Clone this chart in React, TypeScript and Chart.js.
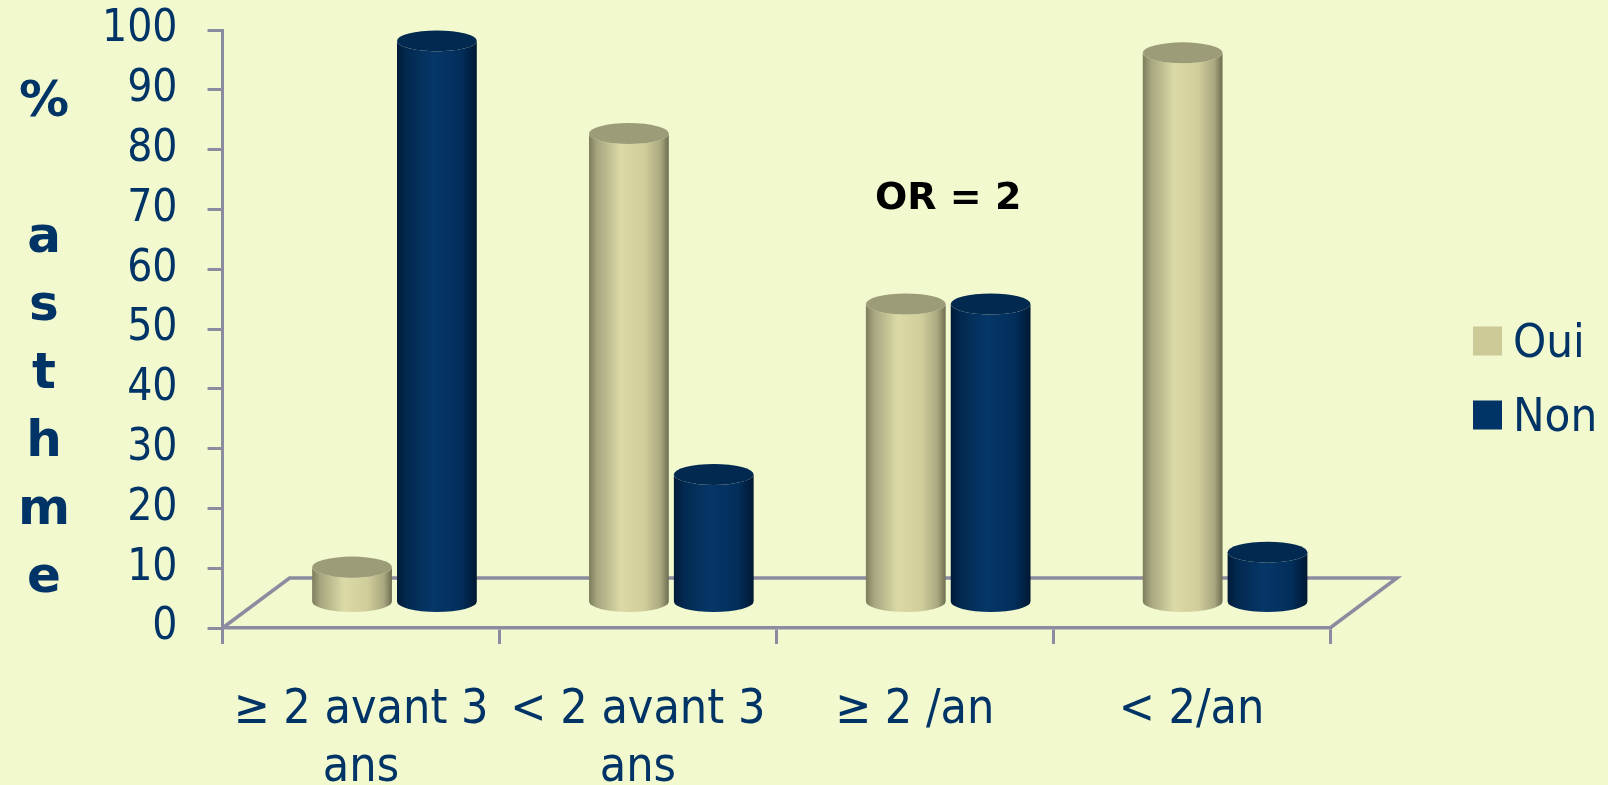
import React, { useEffect, useRef } from "react";
import { Chart, registerables } from "chart.js";

Chart.register(...registerables);

// ---------- data ----------
const categories: (string | string[])[] = [
  ["≥ 2 avant 3", "ans"],
  ["< 2 avant 3", "ans"],
  "≥ 2 /an",
  "< 2/an",
];
const seriesLabels = ["Oui", "Non"];
const ouiValues = [6, 78.5, 50, 92];
const nonValues = [94, 21.5, 50, 8.5];
const yTitleLetters = ["%", "", "a", "s", "t", "h", "m", "e"];
const annotationText = "OR = 2";
const annotationCategoryIndex = 2;
const annotationValue = 70;

// ---------- styling ----------
const BG = "#F2F9CE";
const NAVY = "#003366";
const AXIS_COLOR = "#8C8CA0";
const DEPTH_X = 67;
const DEPTH_Y = 50;
const CAP_RY = 10.5;
const X_AXIS_HEIGHT = 157;
const COND = "'DejaVu Sans Condensed', 'DejaVu Sans', sans-serif";
const BOLD = "'DejaVu Sans', Verdana, sans-serif";

const legendColors = ["#CCCA96", NAVY];
const shades = [
  {
    stops: [
      [0, "#7d7d5c"],
      [0.1, "#a6a57f"],
      [0.4, "#dbdaa6"],
      [0.7, "#cfcd9a"],
      [0.9, "#a9a77f"],
      [1, "#6d6d50"],
    ],
    cap: "#9d9c79",
  },
  {
    stops: [
      [0, "#001a38"],
      [0.12, "#02294f"],
      [0.45, "#063769"],
      [0.8, "#022e5b"],
      [1, "#001833"],
    ],
    cap: "#022a51",
  },
];

const floorPlugin = {
  id: "floor3d",
  beforeDatasetsDraw(chart: any) {
    const { ctx, chartArea } = chart;
    const { left, right, bottom } = chartArea;
    ctx.save();
    ctx.strokeStyle = AXIS_COLOR;
    ctx.lineWidth = 3.5;
    ctx.lineJoin = "miter";
    ctx.beginPath();
    ctx.moveTo(left, bottom);
    ctx.lineTo(left + DEPTH_X, bottom - DEPTH_Y);
    ctx.lineTo(right + DEPTH_X, bottom - DEPTH_Y);
    ctx.lineTo(right, bottom);
    ctx.stroke();
    ctx.restore();
  },
};

const cylinderPlugin = {
  id: "cylinders",
  beforeDatasetDraw(chart: any, args: any) {
    const ctx = chart.ctx;
    const shade = shades[args.index];
    ctx.save();
    args.meta.data.forEach((bar: any) => {
      const { x, y, base, width } = bar.getProps(["x", "y", "base", "width"], true);
      const cx = x + DEPTH_X / 2;
      const top = y - DEPTH_Y / 2;
      const bot = base - DEPTH_Y / 2;
      const rx = width / 2;
      const g = ctx.createLinearGradient(cx - rx, 0, cx + rx, 0);
      shade.stops.forEach(([o, c]: any) => g.addColorStop(o, c));
      ctx.fillStyle = g;
      ctx.beginPath();
      ctx.moveTo(cx - rx, top);
      ctx.lineTo(cx - rx, bot);
      ctx.ellipse(cx, bot, rx, CAP_RY, 0, Math.PI, 0, true);
      ctx.lineTo(cx + rx, top);
      ctx.ellipse(cx, top, rx, CAP_RY, 0, 0, Math.PI, false);
      ctx.closePath();
      ctx.fill();
      ctx.fillStyle = shade.cap;
      ctx.beginPath();
      ctx.ellipse(cx, top, rx, CAP_RY, 0, 0, Math.PI * 2);
      ctx.fill();
    });
    ctx.restore();
    return false;
  },
};

const textPlugin = {
  id: "extraText",
  afterDraw(chart: any) {
    const { ctx } = chart;
    const xs = chart.scales.x;
    const ys = chart.scales.y;
    ctx.save();
    // vertical y title
    ctx.fillStyle = NAVY;
    ctx.font = `bold 50px ${BOLD}`;
    ctx.textAlign = "center";
    ctx.textBaseline = "alphabetic";
    yTitleLetters.forEach((l, i) => {
      if (l) ctx.fillText(l, 44, 116 + i * 68);
    });
    // annotation
    ctx.fillStyle = "#000000";
    ctx.font = `bold 38px ${BOLD}`;
    ctx.fillText(
      annotationText,
      xs.getPixelForValue(annotationCategoryIndex) + DEPTH_X / 2,
      ys.getPixelForValue(annotationValue)
    );
    // legend
    ctx.textAlign = "left";
    ctx.font = `47px ${COND}`;
    const lx = chart.chartArea.right + 143;
    seriesLabels.forEach((lab, i) => {
      const cy = 341 + i * 74;
      ctx.fillStyle = legendColors[i];
      ctx.fillRect(lx, cy - 14.5, 29, 29);
      ctx.fillStyle = NAVY;
      ctx.fillText(lab, lx + 40, cy + 16);
    });
    ctx.restore();
  },
};

export default function App() {
  const ref = useRef<HTMLCanvasElement | null>(null);
  useEffect(() => {
    if (!ref.current) return;
    const chart = new Chart(ref.current, {
      type: "bar",
      data: {
        labels: categories,
        datasets: [
          {
            label: seriesLabels[0],
            data: ouiValues,
            backgroundColor: legendColors[0],
            categoryPercentage: 0.613,
            barPercentage: 0.94,
          },
          {
            label: seriesLabels[1],
            data: nonValues,
            backgroundColor: legendColors[1],
            categoryPercentage: 0.613,
            barPercentage: 0.94,
          },
        ],
      },
      options: {
        animation: false,
        responsive: true,
        maintainAspectRatio: false,
        layout: { padding: { left: 72, right: 278, top: 30, bottom: 0 } },
        plugins: {
          legend: { display: false },
          tooltip: { enabled: false },
          title: { display: false },
        },
        scales: {
          x: {
            afterFit: (scale: any) => {
              scale.height = X_AXIS_HEIGHT;
            },
            grid: {
              display: true,
              offset: true,
              drawOnChartArea: false,
              drawTicks: true,
              tickLength: 16,
              color: AXIS_COLOR,
              lineWidth: 3,
            },
            border: { display: true, color: AXIS_COLOR, width: 3.5 },
            ticks: {
              color: NAVY,
              font: { family: COND, size: 48, lineHeight: 1.2 },
              padding: 38,
              maxRotation: 0,
              minRotation: 0,
              autoSkip: false,
            },
          },
          y: {
            min: 0,
            max: 100,
            afterFit: (scale: any) => {
              scale.paddingTop = 0;
              scale.paddingBottom = 0;
            },
            grid: {
              display: true,
              drawOnChartArea: false,
              drawTicks: true,
              tickLength: 15,
              color: AXIS_COLOR,
              lineWidth: 3,
            },
            border: { display: true, color: AXIS_COLOR, width: 3 },
            ticks: {
              stepSize: 10,
              color: NAVY,
              font: { family: COND, size: 44, lineHeight: 1 },
              padding: 30,
            },
          },
        },
      },
      plugins: [floorPlugin, cylinderPlugin, textPlugin],
    });
    return () => chart.destroy();
  }, []);

  return (
    <div
      style={{
        position: "fixed",
        left: 0,
        top: 0,
        width: 1608,
        height: 785,
        background: BG,
      }}
    >
      <canvas ref={ref} />
    </div>
  );
}
